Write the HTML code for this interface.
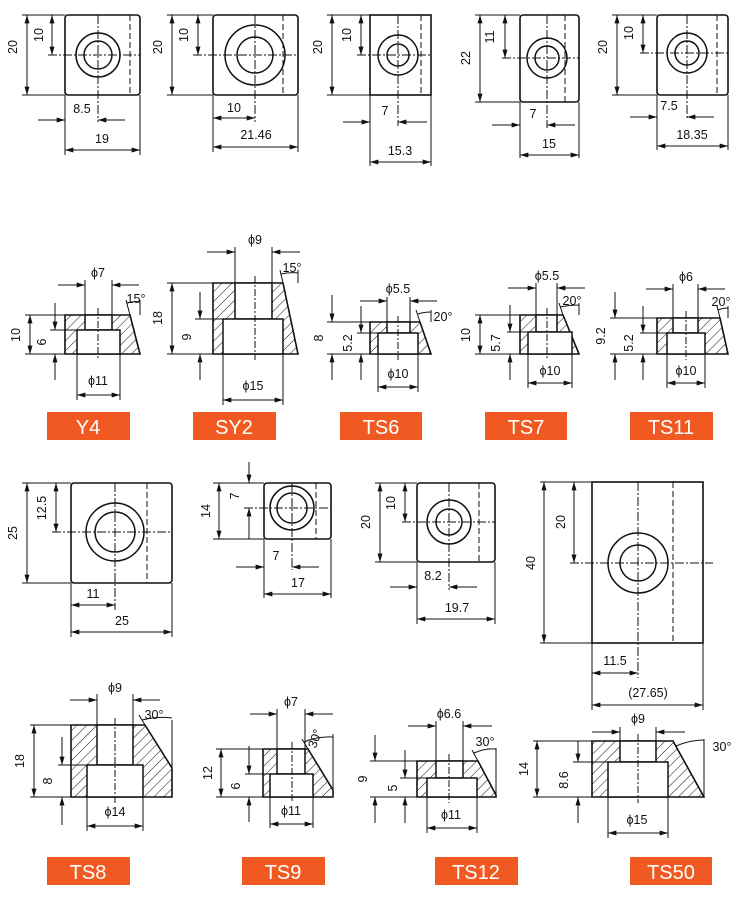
<!DOCTYPE html>
<html><head><meta charset="utf-8"><style>
html,body{margin:0;padding:0;background:#fff}
svg{display:block}
text{font-family:"Liberation Sans",sans-serif;font-size:12.5px;fill:#111;text-anchor:middle}
.l{fill:#f05a22;}
.lt{font-size:20px;fill:#fff;}
</style></head><body>
<svg width="740" height="906" viewBox="0 0 740 906" xmlns="http://www.w3.org/2000/svg">
<defs>
<marker id="a" viewBox="0 0 10 6" refX="10" refY="3" markerWidth="10" markerHeight="5" markerUnits="userSpaceOnUse" orient="auto-start-reverse"><path d="M0,0L10,3L0,6z" fill="#111"/></marker>
<pattern id="h" width="7" height="7" patternUnits="userSpaceOnUse" patternTransform="rotate(45)"><line x1="0" y1="0" x2="0" y2="7" stroke="#111" stroke-width="1"/></pattern>
</defs>
<g fill="none" stroke="#111" stroke-width="1">
<!-- ========== ROW 1 TOP VIEWS ========== -->
<!-- Y4 -->
<g>
<rect x="65" y="15" width="75" height="80" rx="3" stroke-width="1.6"/>
<circle cx="98" cy="55" r="22" stroke-width="1.5"/><circle cx="98" cy="55" r="14" stroke-width="1.5"/>
<line x1="130" y1="15" x2="130" y2="95" stroke-dasharray="6 3"/>
<line x1="48" y1="55" x2="140" y2="55" stroke-dasharray="9 2 2 2"/>
<line x1="98" y1="15" x2="98" y2="122" stroke-dasharray="9 2 2 2"/>
<path d="M22 15H65M22 95H65M65 95V155M140 95V155"/>
<line x1="27" y1="15" x2="27" y2="95" marker-start="url(#a)" marker-end="url(#a)"/>
<line x1="52" y1="15" x2="52" y2="55" marker-start="url(#a)" marker-end="url(#a)"/>
<line x1="38" y1="120" x2="65" y2="120" marker-end="url(#a)"/><line x1="125" y1="120" x2="98" y2="120" marker-end="url(#a)"/>
<line x1="65" y1="150" x2="140" y2="150" marker-start="url(#a)" marker-end="url(#a)"/>
</g>
<!-- SY2 -->
<g>
<rect x="213" y="15" width="85" height="80" rx="3" stroke-width="1.6"/>
<circle cx="255" cy="55" r="30" stroke-width="1.5"/><circle cx="255" cy="55" r="18" stroke-width="1.5"/>
<line x1="283" y1="15" x2="283" y2="95" stroke-dasharray="6 3"/>
<line x1="193" y1="55" x2="298" y2="55" stroke-dasharray="9 2 2 2"/>
<line x1="255" y1="15" x2="255" y2="122" stroke-dasharray="9 2 2 2"/>
<path d="M167 15H213M167 95H213M213 95V152M298 95V152"/>
<line x1="172" y1="15" x2="172" y2="95" marker-start="url(#a)" marker-end="url(#a)"/>
<line x1="198" y1="15" x2="198" y2="55" marker-start="url(#a)" marker-end="url(#a)"/>
<line x1="213" y1="118" x2="255" y2="118" marker-start="url(#a)" marker-end="url(#a)"/>
<line x1="213" y1="147" x2="298" y2="147" marker-start="url(#a)" marker-end="url(#a)"/>
</g>
<!-- TS6 -->
<g>
<rect x="370" y="15" width="61" height="80" stroke-width="1.6"/>
<circle cx="398" cy="55" r="20" stroke-width="1.5"/><circle cx="398" cy="55" r="11" stroke-width="1.5"/>
<line x1="421" y1="15" x2="421" y2="95" stroke-dasharray="6 3"/>
<line x1="357" y1="55" x2="431" y2="55" stroke-dasharray="9 2 2 2"/>
<line x1="398" y1="15" x2="398" y2="126" stroke-dasharray="9 2 2 2"/>
<path d="M327 15H370M327 95H370M370 95V166M431 95V166"/>
<line x1="332" y1="15" x2="332" y2="95" marker-start="url(#a)" marker-end="url(#a)"/>
<line x1="361" y1="15" x2="361" y2="55" marker-start="url(#a)" marker-end="url(#a)"/>
<line x1="343" y1="122" x2="370" y2="122" marker-end="url(#a)"/><line x1="427" y1="122" x2="398" y2="122" marker-end="url(#a)"/>
<line x1="370" y1="162" x2="431" y2="162" marker-start="url(#a)" marker-end="url(#a)"/>
</g>
<!-- TS7 -->
<g>
<rect x="520" y="15" width="59" height="87" rx="3" stroke-width="1.6"/>
<circle cx="547" cy="58" r="20" stroke-width="1.5"/><circle cx="547" cy="58" r="12" stroke-width="1.5"/>
<line x1="565" y1="15" x2="565" y2="102" stroke-dasharray="6 3"/>
<line x1="502" y1="58" x2="579" y2="58" stroke-dasharray="9 2 2 2"/>
<line x1="547" y1="15" x2="547" y2="128" stroke-dasharray="9 2 2 2"/>
<path d="M475 15H520M475 102H520M520 102V158M579 102V158"/>
<line x1="480" y1="15" x2="480" y2="102" marker-start="url(#a)" marker-end="url(#a)"/>
<line x1="505" y1="15" x2="505" y2="58" marker-start="url(#a)" marker-end="url(#a)"/>
<line x1="492" y1="125" x2="520" y2="125" marker-end="url(#a)"/><line x1="575" y1="125" x2="547" y2="125" marker-end="url(#a)"/>
<line x1="520" y1="155" x2="579" y2="155" marker-start="url(#a)" marker-end="url(#a)"/>
</g>
<!-- TS11 -->
<g>
<rect x="657" y="15" width="71" height="80" rx="3" stroke-width="1.6"/>
<circle cx="687" cy="53" r="20" stroke-width="1.5"/><circle cx="687" cy="53" r="12" stroke-width="1.5"/>
<line x1="717" y1="15" x2="717" y2="95" stroke-dasharray="6 3"/>
<line x1="640" y1="53" x2="728" y2="53" stroke-dasharray="9 2 2 2"/>
<line x1="687" y1="15" x2="687" y2="120" stroke-dasharray="9 2 2 2"/>
<path d="M612 15H657M612 95H657M657 95V150M728 95V150"/>
<line x1="617" y1="15" x2="617" y2="95" marker-start="url(#a)" marker-end="url(#a)"/>
<line x1="643" y1="15" x2="643" y2="53" marker-start="url(#a)" marker-end="url(#a)"/>
<line x1="630" y1="117" x2="657" y2="117" marker-end="url(#a)"/><line x1="714" y1="117" x2="687" y2="117" marker-end="url(#a)"/>
<line x1="657" y1="146" x2="728" y2="146" marker-start="url(#a)" marker-end="url(#a)"/>
</g>

<!-- ========== ROW 2 SECTIONS ========== -->
<!-- Y4 -->
<g>
<polygon points="65,315 130,315 140,354 65,354" fill="url(#h)" stroke-width="1.6"/>
<rect x="85" y="315" width="27" height="15" fill="#fff" stroke-width="1.5"/>
<rect x="77" y="330" width="43" height="24" fill="#fff" stroke-width="1.5"/>
<line x1="98" y1="308" x2="98" y2="360" stroke-dasharray="7 2 2 2"/>
<path d="M85 280V315M112 280V315M77 354V400M120 354V400M25 315H65M25 354H77M50 330H77"/>
<line x1="58" y1="285" x2="85" y2="285" marker-end="url(#a)"/><line x1="139" y1="285" x2="112" y2="285" marker-end="url(#a)"/>
<line x1="77" y1="395" x2="120" y2="395" marker-start="url(#a)" marker-end="url(#a)"/>
<line x1="30" y1="315" x2="30" y2="354" marker-start="url(#a)" marker-end="url(#a)"/>
<line x1="55" y1="303" x2="55" y2="330" marker-end="url(#a)"/><line x1="55" y1="380" x2="55" y2="354" marker-end="url(#a)"/>
<path d="M130 315L126 300M140 315V300M127 303Q134 301 140 302"/>
</g>
<!-- SY2 -->
<g>
<polygon points="213,283 283,283 298,354 213,354" fill="url(#h)" stroke-width="1.6"/>
<rect x="235" y="283" width="37" height="36" fill="#fff" stroke-width="1.5"/>
<rect x="223" y="319" width="60" height="35" fill="#fff" stroke-width="1.5"/>
<line x1="255" y1="276" x2="255" y2="360" stroke-dasharray="7 2 2 2"/>
<path d="M235 247V283M272 247V283M223 354V405M283 354V405M167 283H213M167 354H223M195 319H223"/>
<line x1="207" y1="252" x2="235" y2="252" marker-end="url(#a)"/><line x1="300" y1="252" x2="272" y2="252" marker-end="url(#a)"/>
<line x1="223" y1="400" x2="283" y2="400" marker-start="url(#a)" marker-end="url(#a)"/>
<line x1="172" y1="283" x2="172" y2="354" marker-start="url(#a)" marker-end="url(#a)"/>
<line x1="200" y1="292" x2="200" y2="319" marker-end="url(#a)"/><line x1="200" y1="380" x2="200" y2="354" marker-end="url(#a)"/>
<path d="M283 283L280 270M298 283V270M281 274Q290 272 298 273"/>
</g>
<!-- TS6 -->
<g>
<polygon points="370,322 420,322 431,354 370,354" fill="url(#h)" stroke-width="1.6"/>
<rect x="387" y="322" width="23" height="11" fill="#fff" stroke-width="1.5"/>
<rect x="378" y="333" width="40" height="21" fill="#fff" stroke-width="1.5"/>
<line x1="398" y1="316" x2="398" y2="360" stroke-dasharray="7 2 2 2"/>
<path d="M387 297V322M410 297V322M378 354V392M418 354V392M327 322H370M327 354H378M357 333H378"/>
<line x1="360" y1="301" x2="387" y2="301" marker-end="url(#a)"/><line x1="437" y1="301" x2="410" y2="301" marker-end="url(#a)"/>
<line x1="378" y1="387" x2="418" y2="387" marker-start="url(#a)" marker-end="url(#a)"/>
<line x1="332" y1="295" x2="332" y2="322" marker-end="url(#a)"/><line x1="332" y1="380" x2="332" y2="354" marker-end="url(#a)"/>
<line x1="361" y1="306" x2="361" y2="333" marker-end="url(#a)"/><line x1="361" y1="380" x2="361" y2="354" marker-end="url(#a)"/>
<path d="M420 322L416 310M431 322V310M418 314Q424 312 431 312"/>
</g>
<!-- TS7 -->
<g>
<polygon points="520,315 563,315 579,354 520,354" fill="url(#h)" stroke-width="1.6"/>
<rect x="536" y="315" width="21" height="17" fill="#fff" stroke-width="1.5"/>
<rect x="528" y="332" width="44" height="22" fill="#fff" stroke-width="1.5"/>
<line x1="547" y1="308" x2="547" y2="360" stroke-dasharray="7 2 2 2"/>
<path d="M536 283V315M557 283V315M528 354V388M572 354V388M475 315H520M475 354H528M507 332H528"/>
<line x1="508" y1="288" x2="536" y2="288" marker-end="url(#a)"/><line x1="585" y1="288" x2="557" y2="288" marker-end="url(#a)"/>
<line x1="528" y1="383" x2="572" y2="383" marker-start="url(#a)" marker-end="url(#a)"/>
<line x1="480" y1="315" x2="480" y2="354" marker-start="url(#a)" marker-end="url(#a)"/>
<line x1="510" y1="305" x2="510" y2="332" marker-end="url(#a)"/><line x1="510" y1="380" x2="510" y2="354" marker-end="url(#a)"/>
<path d="M563 315L559 303M579 315V303M560 307Q570 305 579 305"/>
</g>
<!-- TS11 -->
<g>
<polygon points="657,318 720,318 728,354 657,354" fill="url(#h)" stroke-width="1.6"/>
<rect x="673" y="318" width="25" height="15" fill="#fff" stroke-width="1.5"/>
<rect x="667" y="333" width="38" height="21" fill="#fff" stroke-width="1.5"/>
<line x1="686" y1="311" x2="686" y2="360" stroke-dasharray="7 2 2 2"/>
<path d="M673 284V318M698 284V318M667 354V388M705 354V388M610 318H657M610 354H667M640 333H667"/>
<line x1="646" y1="289" x2="673" y2="289" marker-end="url(#a)"/><line x1="725" y1="289" x2="698" y2="289" marker-end="url(#a)"/>
<line x1="667" y1="383" x2="705" y2="383" marker-start="url(#a)" marker-end="url(#a)"/>
<line x1="615" y1="292" x2="615" y2="318" marker-end="url(#a)"/><line x1="615" y1="380" x2="615" y2="354" marker-end="url(#a)"/>
<line x1="643" y1="306" x2="643" y2="333" marker-end="url(#a)"/><line x1="643" y1="380" x2="643" y2="354" marker-end="url(#a)"/>
<path d="M720 318L717 306M728 318V306M718 310Q723 308 728 308"/>
</g>

<!-- ========== ROW 3 TOP VIEWS ========== -->
<!-- TS8 -->
<g>
<rect x="71" y="483" width="101" height="100" rx="3" stroke-width="1.6"/>
<circle cx="115" cy="532" r="29" stroke-width="1.5"/><circle cx="115" cy="532" r="20" stroke-width="1.5"/>
<line x1="147" y1="483" x2="147" y2="583" stroke-dasharray="6 3"/>
<line x1="52" y1="532" x2="172" y2="532" stroke-dasharray="9 2 2 2"/>
<line x1="115" y1="483" x2="115" y2="610" stroke-dasharray="9 2 2 2"/>
<path d="M22 483H71M22 583H71M71 583V637M172 583V637"/>
<line x1="27" y1="483" x2="27" y2="583" marker-start="url(#a)" marker-end="url(#a)"/>
<line x1="56" y1="483" x2="56" y2="532" marker-start="url(#a)" marker-end="url(#a)"/>
<line x1="71" y1="605" x2="115" y2="605" marker-start="url(#a)" marker-end="url(#a)"/>
<line x1="71" y1="632" x2="172" y2="632" marker-start="url(#a)" marker-end="url(#a)"/>
</g>
<!-- TS9 -->
<g>
<rect x="264" y="483" width="67" height="56" rx="3" stroke-width="1.6"/>
<circle cx="292" cy="508" r="22" stroke-width="1.5"/><circle cx="292" cy="508" r="15" stroke-width="1.5"/>
<line x1="316" y1="483" x2="316" y2="539" stroke-dasharray="6 3"/>
<line x1="244" y1="508" x2="331" y2="508" stroke-dasharray="9 2 2 2"/>
<line x1="292" y1="483" x2="292" y2="570" stroke-dasharray="9 2 2 2"/>
<path d="M213 483H264M213 539H264M264 539V598M331 539V598"/>
<line x1="219" y1="483" x2="219" y2="539" marker-start="url(#a)" marker-end="url(#a)"/>
<line x1="249" y1="462" x2="249" y2="483" marker-end="url(#a)"/><line x1="249" y1="539" x2="249" y2="508" marker-end="url(#a)"/>
<line x1="236" y1="567" x2="264" y2="567" marker-end="url(#a)"/><line x1="319" y1="567" x2="292" y2="567" marker-end="url(#a)"/>
<line x1="264" y1="594" x2="331" y2="594" marker-start="url(#a)" marker-end="url(#a)"/>
</g>
<!-- TS12 -->
<g>
<rect x="417" y="483" width="78" height="79" rx="3" stroke-width="1.6"/>
<circle cx="449" cy="522" r="22" stroke-width="1.5"/><circle cx="449" cy="522" r="13" stroke-width="1.5"/>
<line x1="479" y1="483" x2="479" y2="562" stroke-dasharray="6 3"/>
<line x1="402" y1="522" x2="495" y2="522" stroke-dasharray="9 2 2 2"/>
<line x1="449" y1="483" x2="449" y2="590" stroke-dasharray="9 2 2 2"/>
<path d="M375 483H417M375 562H417M417 562V624M495 562V624"/>
<line x1="380" y1="483" x2="380" y2="562" marker-start="url(#a)" marker-end="url(#a)"/>
<line x1="405" y1="483" x2="405" y2="522" marker-start="url(#a)" marker-end="url(#a)"/>
<line x1="390" y1="587" x2="417" y2="587" marker-end="url(#a)"/><line x1="477" y1="587" x2="449" y2="587" marker-end="url(#a)"/>
<line x1="417" y1="619" x2="495" y2="619" marker-start="url(#a)" marker-end="url(#a)"/>
</g>
<!-- TS50 -->
<g>
<rect x="592" y="482" width="111" height="161" stroke-width="1.6"/>
<circle cx="638" cy="563" r="30" stroke-width="1.5"/><circle cx="638" cy="563" r="18" stroke-width="1.5"/>
<line x1="673" y1="482" x2="673" y2="643" stroke-dasharray="6 3"/>
<line x1="570" y1="563" x2="713" y2="563" stroke-dasharray="9 2 2 2"/>
<line x1="638" y1="482" x2="638" y2="678" stroke-dasharray="9 2 2 2"/>
<path d="M540 482H592M540 643H592M592 643V710M703 643V710"/>
<line x1="544" y1="482" x2="544" y2="643" marker-start="url(#a)" marker-end="url(#a)"/>
<line x1="574" y1="482" x2="574" y2="563" marker-start="url(#a)" marker-end="url(#a)"/>
<line x1="592" y1="673" x2="638" y2="673" marker-start="url(#a)" marker-end="url(#a)"/>
<line x1="592" y1="705" x2="703" y2="705" marker-start="url(#a)" marker-end="url(#a)"/>
</g>

<!-- ========== ROW 4 SECTIONS ========== -->
<!-- TS8 -->
<g>
<polygon points="71,725 145,725 172,768 172,797 71,797" fill="url(#h)" stroke-width="1.6"/>
<rect x="97" y="725" width="36" height="40" fill="#fff" stroke-width="1.5"/>
<rect x="87" y="765" width="56" height="32" fill="#fff" stroke-width="1.5"/>
<line x1="115" y1="718" x2="115" y2="803" stroke-dasharray="7 2 2 2"/>
<path d="M97 694V725M133 694V725M87 797V831M143 797V831M30 725H71M30 797H87M58 765H87"/>
<line x1="70" y1="700" x2="97" y2="700" marker-end="url(#a)"/><line x1="160" y1="700" x2="133" y2="700" marker-end="url(#a)"/>
<line x1="87" y1="826" x2="143" y2="826" marker-start="url(#a)" marker-end="url(#a)"/>
<line x1="34" y1="725" x2="34" y2="797" marker-start="url(#a)" marker-end="url(#a)"/>
<line x1="62" y1="737" x2="62" y2="765" marker-end="url(#a)"/><line x1="62" y1="825" x2="62" y2="797" marker-end="url(#a)"/>
<path d="M145 725L139 715M172 768V720M142 720Q158 716 172 718"/>
</g>
<!-- TS9 -->
<g>
<polygon points="263,749 308,749 333,790 333,797 263,797" fill="url(#h)" stroke-width="1.6"/>
<rect x="277" y="749" width="28" height="25" fill="#fff" stroke-width="1.5"/>
<rect x="270" y="774" width="43" height="23" fill="#fff" stroke-width="1.5"/>
<line x1="292" y1="742" x2="292" y2="803" stroke-dasharray="7 2 2 2"/>
<path d="M277 709V749M305 709V749M270 797V828M313 797V828M216 749H263M216 797H270M245 774H270"/>
<line x1="250" y1="714" x2="277" y2="714" marker-end="url(#a)"/><line x1="333" y1="714" x2="305" y2="714" marker-end="url(#a)"/>
<line x1="270" y1="824" x2="313" y2="824" marker-start="url(#a)" marker-end="url(#a)"/>
<line x1="221" y1="749" x2="221" y2="797" marker-start="url(#a)" marker-end="url(#a)"/>
<line x1="249" y1="746" x2="249" y2="774" marker-end="url(#a)"/><line x1="249" y1="822" x2="249" y2="797" marker-end="url(#a)"/>
<path d="M308 749L302 739M333 790V734M304 742Q318 736 333 737"/>
</g>
<!-- TS12 -->
<g>
<polygon points="417,761 478,761 496,795 496,797 417,797" fill="url(#h)" stroke-width="1.6"/>
<rect x="436" y="761" width="27" height="17" fill="#fff" stroke-width="1.5"/>
<rect x="427" y="778" width="50" height="19" fill="#fff" stroke-width="1.5"/>
<line x1="449" y1="754" x2="449" y2="803" stroke-dasharray="7 2 2 2"/>
<path d="M436 721V761M463 721V761M427 797V833M477 797V833M370 761H417M370 797H427M400 778H427"/>
<line x1="408" y1="726" x2="436" y2="726" marker-end="url(#a)"/><line x1="492" y1="726" x2="463" y2="726" marker-end="url(#a)"/>
<line x1="427" y1="828" x2="477" y2="828" marker-start="url(#a)" marker-end="url(#a)"/>
<line x1="375" y1="735" x2="375" y2="761" marker-end="url(#a)"/><line x1="375" y1="823" x2="375" y2="797" marker-end="url(#a)"/>
<line x1="405" y1="750" x2="405" y2="778" marker-end="url(#a)"/><line x1="405" y1="823" x2="405" y2="797" marker-end="url(#a)"/>
<path d="M478 761L472 750M496 795V748M474 753Q485 748 496 749"/>
</g>
<!-- TS50 -->
<g>
<polygon points="592,741 673,741 704,797 592,797" fill="url(#h)" stroke-width="1.6"/>
<rect x="620" y="741" width="36" height="21" fill="#fff" stroke-width="1.5"/>
<rect x="608" y="762" width="60" height="35" fill="#fff" stroke-width="1.5"/>
<line x1="638" y1="734" x2="638" y2="803" stroke-dasharray="7 2 2 2"/>
<path d="M620 727V741M656 727V741M608 797V838M668 797V838M533 741H592M533 797H608M573 762H608"/>
<line x1="592" y1="732" x2="620" y2="732" marker-end="url(#a)"/><line x1="685" y1="732" x2="656" y2="732" marker-end="url(#a)"/>
<line x1="608" y1="833" x2="668" y2="833" marker-start="url(#a)" marker-end="url(#a)"/>
<line x1="537" y1="741" x2="537" y2="797" marker-start="url(#a)" marker-end="url(#a)"/>
<line x1="578" y1="741" x2="578" y2="762" marker-end="url(#a)"/><line x1="578" y1="823" x2="578" y2="797" marker-end="url(#a)"/>
<path d="M704 797V739M676 746Q690 740 704 740"/>
</g>
</g>

<!-- ========== TEXT ========== -->
<g>
<!-- row1 -->
<text transform="translate(17,47) rotate(-90)">20</text><text transform="translate(43,35) rotate(-90)">10</text>
<text x="82" y="113">8.5</text><text x="102" y="143">19</text>
<text transform="translate(162,47) rotate(-90)">20</text><text transform="translate(188,35) rotate(-90)">10</text>
<text x="234" y="112">10</text><text x="256" y="139">21.46</text>
<text transform="translate(322,47) rotate(-90)">20</text><text transform="translate(351,35) rotate(-90)">10</text>
<text x="385" y="115">7</text><text x="400" y="155">15.3</text>
<text transform="translate(470,58) rotate(-90)">22</text><text transform="translate(494,37) rotate(-90)">11</text>
<text x="533" y="118">7</text><text x="549" y="148">15</text>
<text transform="translate(607,47) rotate(-90)">20</text><text transform="translate(633,33) rotate(-90)">10</text>
<text x="669" y="110">7.5</text><text x="692" y="139">18.35</text>
<!-- row2 -->
<text x="98" y="277">ϕ7</text><text x="136" y="303">15°</text><text transform="translate(20,335) rotate(-90)">10</text><text transform="translate(46,342) rotate(-90)">6</text><text x="98" y="385">ϕ11</text>
<text x="255" y="244">ϕ9</text><text x="292" y="272">15°</text><text transform="translate(162,318) rotate(-90)">18</text><text transform="translate(191,337) rotate(-90)">9</text><text x="253" y="390">ϕ15</text>
<text x="398" y="293">ϕ5.5</text><text x="443" y="321">20°</text><text transform="translate(323,338) rotate(-90)">8</text><text transform="translate(352,343) rotate(-90)">5.2</text><text x="398" y="378">ϕ10</text>
<text x="547" y="280">ϕ5.5</text><text x="572" y="305">20°</text><text transform="translate(470,335) rotate(-90)">10</text><text transform="translate(500,343) rotate(-90)">5.7</text><text x="550" y="375">ϕ10</text>
<text x="686" y="281">ϕ6</text><text x="721" y="306">20°</text><text transform="translate(605,336) rotate(-90)">9.2</text><text transform="translate(633,343) rotate(-90)">5.2</text><text x="686" y="375">ϕ10</text>
<!-- row3 -->
<text transform="translate(17,533) rotate(-90)">25</text><text transform="translate(46,508) rotate(-90)">12.5</text>
<text x="93" y="598">11</text><text x="122" y="625">25</text>
<text transform="translate(210,511) rotate(-90)">14</text><text transform="translate(239,496) rotate(-90)">7</text>
<text x="276" y="560">7</text><text x="298" y="587">17</text>
<text transform="translate(370,522) rotate(-90)">20</text><text transform="translate(395,503) rotate(-90)">10</text>
<text x="433" y="580">8.2</text><text x="457" y="612">19.7</text>
<text transform="translate(535,563) rotate(-90)">40</text><text transform="translate(565,522) rotate(-90)">20</text>
<text x="615" y="665">11.5</text><text x="648" y="697">(27.65)</text>
<!-- row4 -->
<text x="115" y="692">ϕ9</text><text x="154" y="719">30°</text><text transform="translate(24,761) rotate(-90)">18</text><text transform="translate(52,781) rotate(-90)">8</text><text x="115" y="816">ϕ14</text>
<text x="291" y="706">ϕ7</text><text transform="translate(319,740) rotate(-70)">30°</text><text transform="translate(212,773) rotate(-90)">12</text><text transform="translate(240,786) rotate(-90)">6</text><text x="291" y="815">ϕ11</text>
<text x="449" y="718">ϕ6.6</text><text x="485" y="746">30°</text><text transform="translate(367,779) rotate(-90)">9</text><text transform="translate(397,788) rotate(-90)">5</text><text x="451" y="819">ϕ11</text>
<text x="638" y="723">ϕ9</text><text x="722" y="751">30°</text><text transform="translate(528,769) rotate(-90)">14</text><text transform="translate(568,780) rotate(-90)">8.6</text><text x="637" y="824">ϕ15</text>
</g>

<!-- labels -->
<rect class="l" x="47" y="412" width="83" height="28"/><text class="lt" x="88" y="434">Y4</text>
<rect class="l" x="193" y="412" width="83" height="28"/><text class="lt" x="234" y="434">SY2</text>
<rect class="l" x="340" y="412" width="82" height="28"/><text class="lt" x="381" y="434">TS6</text>
<rect class="l" x="485" y="412" width="82" height="28"/><text class="lt" x="526" y="434">TS7</text>
<rect class="l" x="630" y="412" width="83" height="28"/><text class="lt" x="671" y="434">TS11</text>
<rect class="l" x="47" y="857" width="83" height="28"/><text class="lt" x="88" y="879">TS8</text>
<rect class="l" x="242" y="857" width="83" height="28"/><text class="lt" x="283" y="879">TS9</text>
<rect class="l" x="435" y="857" width="83" height="28"/><text class="lt" x="476" y="879">TS12</text>
<rect class="l" x="630" y="857" width="82" height="28"/><text class="lt" x="671" y="879">TS50</text>
</svg>
</body></html>
